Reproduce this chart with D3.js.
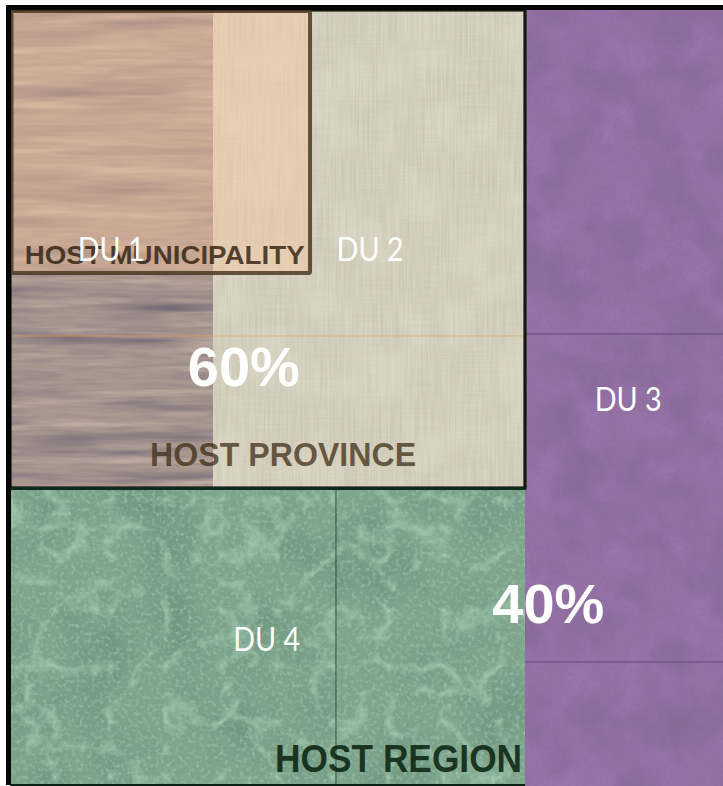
<!DOCTYPE html>
<html><head><meta charset="utf-8">
<script src="https://cdn.jsdelivr.net/npm/d3@7"></script>
<style>html,body{margin:0;padding:0;background:#fff;overflow:hidden}</style>
</head><body>
<svg id="chart" width="723" height="786"></svg>
<script>
// ---- data (layout in % of the frame) ----
const areaNames   = ["Wood", "Linen", "Region", "Outside"];
const areaX0      = [0, 28.47, 0, 72.23];
const areaX1      = [28.47, 72.23, 72.23, 100];
const areaY0      = [0, 0, 61.6, 0];
const areaY1      = [61.6, 61.6, 100, 100];

const boxNames    = ["Host Municipality", "Host Province"];
const boxX0       = [0, 0];
const boxX1       = [42.08, 72.23];
const boxY0       = [0, 0];
const boxY1       = [33.76, 61.6];

const seamArea    = ["Wood", "Linen", "Outside", "Outside", "Region"];
const seamOrient  = ["h", "h", "h", "h", "v"];
const seamAt      = [42.01, 42.01, 41.75, 84.02, 45.72];

const unitLabels  = ["DU 1", "DU 2", "DU 3", "DU 4"];
const unitX       = [14.2, 50.5, 86.7, 36.0];
const unitY       = [32.3, 32.3, 51.7, 82.6];

const shareLabels = ["60%", "40%"];
const shareX      = [32.8, 75.5];
const shareY      = [48.5, 79.0];

const hostLabels  = ["HOST MUNICIPALITY", "HOST PROVINCE", "HOST REGION"];
const hostX       = [21.7, 38.3, 54.5];
const hostY       = [32.7, 58.8, 98.2];

// ---- scales ----
const W = 723, H = 786;
const x = d3.scaleLinear().domain([0, 100]).range([10, 723]);
const y = d3.scaleLinear().domain([0, 100]).range([10, 786]);

const svg = d3.select("#chart");
const defs = svg.append("defs");

// noise texture filter helper
function texFilter(id, layers) {
  const f = defs.append("filter").attr("id", id)
    .attr("x", 0).attr("y", 0).attr("width", 1).attr("height", 1)
    .attr("color-interpolation-filters", "sRGB");
  const names = [];
  layers.forEach((L, i) => {
    f.append("feTurbulence").attr("type", L.type).attr("baseFrequency", L.freq)
      .attr("numOctaves", L.oct).attr("seed", L.seed).attr("result", "t" + i);
    const c = d3.rgb(L.color);
    f.append("feColorMatrix").attr("in", "t" + i).attr("type", "matrix")
      .attr("values", `0 0 0 0 ${c.r/255} 0 0 0 0 ${c.g/255} 0 0 0 0 ${c.b/255} ${L.a} 0 0 0 ${L.b}`)
      .attr("result", "c" + i);
    f.append("feComposite").attr("in", "c" + i).attr("in2", "SourceAlpha")
      .attr("operator", "in").attr("result", "k" + i);
    names.push("k" + i);
  });
  const m = f.append("feMerge");
  m.append("feMergeNode").attr("in", "SourceGraphic");
  names.forEach(n => m.append("feMergeNode").attr("in", n));
}

texFilter("fWood", [
  {type: "fractalNoise", freq: "0.005 0.07", oct: 3, seed: 3, color: "#6e6470", a: 2.2, b: -1.05},
  {type: "fractalNoise", freq: "0.006 0.09", oct: 3, seed: 11, color: "#cdb9ad", a: 2.0, b: -1.0},
  {type: "fractalNoise", freq: "0.03 0.3", oct: 2, seed: 5, color: "#8a7c82", a: 0.9, b: -0.35}
]);
texFilter("fLinen", [
  {type: "fractalNoise", freq: "0.6 0.02", oct: 1, seed: 2, color: "#bdb7a4", a: 1.0, b: -0.32},
  {type: "fractalNoise", freq: "0.02 0.6", oct: 1, seed: 7, color: "#c9c3b0", a: 0.8, b: -0.28},
  {type: "fractalNoise", freq: "0.02", oct: 3, seed: 9, color: "#e6e1d2", a: 0.8, b: -0.3}
]);
texFilter("fMarble", [
  {type: "fractalNoise", freq: "0.015", oct: 3, seed: 4, color: "#688f78", a: 1.6, b: -0.7},
  {type: "turbulence", freq: "0.018", oct: 4, seed: 8, color: "#a9d3b8", a: -3.2, b: 0.75},
  {type: "fractalNoise", freq: "0.25", oct: 2, seed: 6, color: "#a5cbb2", a: 1.6, b: -0.75}
]);
texFilter("fPurple", [
  {type: "fractalNoise", freq: "0.02", oct: 4, seed: 12, color: "#806590", a: 1.4, b: -0.6},
  {type: "fractalNoise", freq: "0.025", oct: 4, seed: 21, color: "#a07ab8", a: 1.4, b: -0.65},
  {type: "fractalNoise", freq: "0.3", oct: 2, seed: 14, color: "#8a6a9c", a: 0.8, b: -0.3}
]);

const areaFill   = {Wood: "#a89890", Linen: "#d9d4c3", Region: "#7ea48c", Outside: "#9472a6"};
const areaFilter = {Wood: "fWood", Linen: "fLinen", Region: "fMarble", Outside: "fPurple"};
const seamColor  = {Wood: "#d49a5a", Linen: "#e0b070", Region: "#1e3a2a", Outside: "#5e3c78"};

// ---- areas ----
const areas = areaNames.map((n, i) => ({n, x0: areaX0[i], x1: areaX1[i], y0: areaY0[i], y1: areaY1[i]}));
const areaG = svg.append("g");
areaG.selectAll("rect").data(areas).join("rect")
  .attr("x", d => x(d.x0)).attr("y", d => y(d.y0))
  .attr("width", d => x(d.x1) - x(d.x0) + (d.n === "Outside" ? 20 : 0))
  .attr("height", d => y(d.y1) - y(d.y0) + 20)
  .attr("fill", d => areaFill[d.n])
  .attr("filter", d => `url(#${areaFilter[d.n]})`);
areaG.selectAll("rect").filter(d => d.n === "Region").raise();

// ---- tile seams ----
const seams = seamArea.map((a, i) => ({a, o: seamOrient[i], v: seamAt[i], ar: areas.find(d => d.n === a)}));
svg.append("g").selectAll("line").data(seams).join("line")
  .attr("x1", d => d.o === "h" ? x(d.ar.x0) : x(d.v))
  .attr("x2", d => d.o === "h" ? x(d.ar.x1) + (d.a === "Outside" ? 20 : 0) : x(d.v))
  .attr("y1", d => d.o === "h" ? y(d.v) : y(d.ar.y0))
  .attr("y2", d => d.o === "h" ? y(d.v) : y(d.ar.y1))
  .attr("stroke", d => seamColor[d.a]).attr("stroke-width", 1).attr("opacity", 0.8);

// ---- boxes ----
const boxes = boxNames.map((n, i) => ({n, x0: boxX0[i], x1: boxX1[i], y0: boxY0[i], y1: boxY1[i]}));
svg.append("rect").datum(boxes[1])
  .attr("x", d => x(d.x0)).attr("y", d => y(d.y0))
  .attr("width", d => x(d.x1) - x(d.x0)).attr("height", d => y(d.y1) - y(d.y0))
  .attr("fill", "none").attr("stroke", "#14180f").attr("stroke-width", 3.2);
svg.append("line").datum(boxes[1])
  .attr("x1", d => x(d.x0)).attr("x2", d => x(d.x1))
  .attr("y1", d => y(d.y1) + 0.5).attr("y2", d => y(d.y1) + 0.5)
  .attr("stroke", "#0e2a1c").attr("stroke-width", 3);
svg.append("rect").datum(boxes[0])
  .attr("x", d => x(d.x0) + 1.5).attr("y", d => y(d.y0) + 1)
  .attr("width", d => x(d.x1) - x(d.x0) - 1.5).attr("height", d => y(d.y1) - y(d.y0))
  .attr("fill", "#fcc8a0").attr("fill-opacity", 0.42)
  .attr("stroke", "#4a3a22").attr("stroke-opacity", 0.85).attr("stroke-width", 4)
  .attr("rx", 1.5);

// ---- outer frame ----
svg.append("path")
  .attr("d", `M${x(100) + 5},${y(0) - 2.5} H${x(0) - 1.5} V${y(100) - 1}`)
  .attr("fill", "none").attr("stroke", "#050505").attr("stroke-width", 5);
svg.append("line")
  .attr("x1", x(0)).attr("x2", x(72.23)).attr("y1", y(100) - 1).attr("y2", y(100) - 1)
  .attr("stroke", "#0a2214").attr("stroke-width", 2);

// ---- host labels ----
const hostFill = ["#2b1a08", "#3a2810", "#08200f"];
const hostOp   = [0.78, 0.72, 0.85];
const hostSize = [26, 33, 38];
const hostLen  = [280, 266, 247];
svg.append("g").selectAll("text").data(hostLabels).join("text")
  .attr("x", (d, i) => x(hostX[i])).attr("y", (d, i) => y(hostY[i]))
  .attr("text-anchor", "middle")
  .attr("font-family", "'Liberation Sans Narrow','Liberation Sans',Arial,sans-serif")
  .attr("font-weight", "bold")
  .attr("font-size", (d, i) => hostSize[i])
  .attr("textLength", (d, i) => hostLen[i]).attr("lengthAdjust", "spacingAndGlyphs")
  .attr("fill", (d, i) => hostFill[i]).attr("fill-opacity", (d, i) => hostOp[i])
  .text(d => d);

// ---- unit labels ----
svg.append("g").selectAll("text").data(unitLabels).join("text")
  .attr("x", (d, i) => x(unitX[i])).attr("y", (d, i) => y(unitY[i]))
  .attr("text-anchor", "middle")
  .attr("font-family", "Lato,'Open Sans',sans-serif")
  .attr("font-size", 32)
  .attr("textLength", 67).attr("lengthAdjust", "spacingAndGlyphs")
  .attr("fill", "#ffffff")
  .text(d => d);

// ---- share labels ----
svg.append("g").selectAll("text").data(shareLabels).join("text")
  .attr("x", (d, i) => x(shareX[i])).attr("y", (d, i) => y(shareY[i]))
  .attr("text-anchor", "middle")
  .attr("font-family", "'Liberation Sans Narrow','Liberation Sans',Arial,sans-serif")
  .attr("font-weight", "bold")
  .attr("font-size", 56)
  .attr("textLength", 112).attr("lengthAdjust", "spacingAndGlyphs")
  .attr("fill", "#ffffff")
  .text(d => d);
</script>
</body></html>
